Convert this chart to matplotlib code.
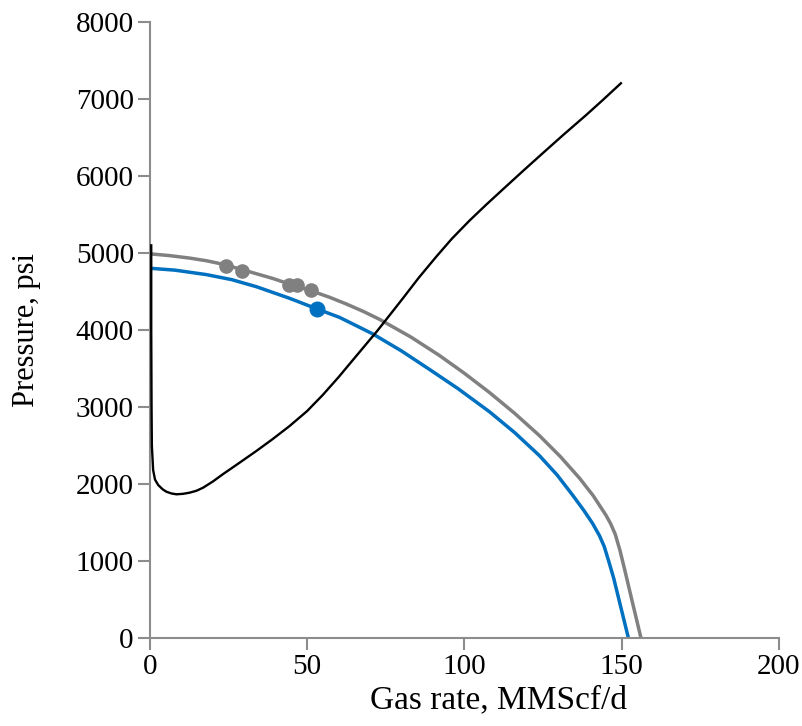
import numpy as np
import matplotlib
import matplotlib.pyplot as plt

## Data
# tubing performance (black)
tpr_q = [0.4, 0.4, 0.5, 0.6, 1.0, 1.6, 2.6, 4.0, 5.2, 6.8, 8.4, 10.5, 12.6, 14.8,
         16.9, 20.0, 23.2, 28.0, 33.8, 39.0, 44.4, 50.0, 55.0, 60.0, 64.5, 72.3,
         80.4, 85.5, 91.0, 96.0, 101.6, 107.0, 112.2, 118.5, 124.9, 131.5, 138.7,
         144.0, 149.8]
tpr_p = [5100, 4000, 3000, 2500, 2185, 2060, 1990, 1935, 1903, 1880, 1869, 1875,
         1890, 1915, 1955, 2035, 2130, 2265, 2430, 2585, 2755, 2950, 3160, 3390,
         3610, 3990, 4410, 4680, 4950, 5185, 5420, 5630, 5825, 6060, 6295, 6535,
         6790, 6985, 7204]

# inflow performance (gray)
ipr_q_gray = [0, 6, 12.6, 18, 23.2, 29.3, 34, 39.1, 44.2, 51.3, 57.2, 62.4, 68,
              73.0, 83.0, 92.1, 100.0, 108.0, 116.0, 123.9, 130.5, 136.6, 141.0,
              145.0, 146.5, 148.0, 149.5, 151.0, 153.5, 156.2]
ipr_p_gray = [4990, 4968, 4935, 4900, 4855, 4785, 4730, 4670, 4600, 4510, 4425,
              4340, 4240, 4140, 3910, 3670, 3440, 3190, 2920, 2630, 2360, 2080,
              1850, 1600, 1490, 1350, 1140, 890, 460, 0]

# inflow performance (blue)
ipr_q_blue = [0, 8, 18.0, 26, 33.8, 44.4, 53.2, 60.3, 65.5, 70.9, 80.0, 88.9,
              98.0, 108.0, 116.0, 123.9, 129.5, 134.4, 138.0, 140.8, 143.0, 144.5,
              146.0, 147.5, 152.2]
ipr_p_blue = [4803, 4778, 4720, 4655, 4564, 4413, 4274, 4165, 4060, 3950, 3730,
              3490, 3240, 2940, 2670, 2370, 2120, 1860, 1660, 1490, 1330, 1190,
              990, 780, 0]

# test points
gray_pts_q = [24.1, 29.3, 44.2, 46.7, 51.3]
gray_pts_p = [4837, 4772, 4586, 4586, 4521]
blue_pts_q = [53.2]
blue_pts_p = [4274]

x_ticks = [0, 50, 100, 150, 200]
y_ticks = [0, 1000, 2000, 3000, 4000, 5000, 6000, 7000, 8000]

matplotlib.rc('font', family='Liberation Serif', size=21)

fig = plt.figure(figsize=(8.02, 7.26), dpi=100)
ax = fig.add_axes([0.187, 0.1208, 0.784, 0.849])

ax.plot(ipr_q_gray, ipr_p_gray, color='#808080', lw=2.5, zorder=2,
        solid_joinstyle='round')
ax.plot(ipr_q_blue, ipr_p_blue, color='#0070C0', lw=2.5, zorder=2,
        solid_joinstyle='round')
ax.plot(tpr_q, tpr_p, color='black', lw=1.7, zorder=3, solid_joinstyle='round')
ax.plot(gray_pts_q, gray_pts_p, 'o', color='#808080', ms=9.5, zorder=4)
ax.plot(blue_pts_q, blue_pts_p, 'o', color='#0070C0', ms=10.5, zorder=4)

ax.set_xlim(0, 200)
ax.set_ylim(0, 8000)
ax.set_xticks(x_ticks)
ax.set_yticks(y_ticks)

for s in ['top', 'right']:
    ax.spines[s].set_visible(False)
for s in ['left', 'bottom']:
    ax.spines[s].set_color('#8c8c8c')
    ax.spines[s].set_linewidth(1.5)
ax.tick_params(direction='out', length=8.6, width=1.5, color='#8c8c8c',
               labelsize=21, pad=3)

ax.set_xlabel('Gas rate, MMScf/d', fontsize=24, labelpad=2)
ax.xaxis.set_label_coords(0.555, -0.075)
ax.set_ylabel('Pressure, psi', fontsize=22, labelpad=25)

fig.savefig('out.png', dpi=100)
